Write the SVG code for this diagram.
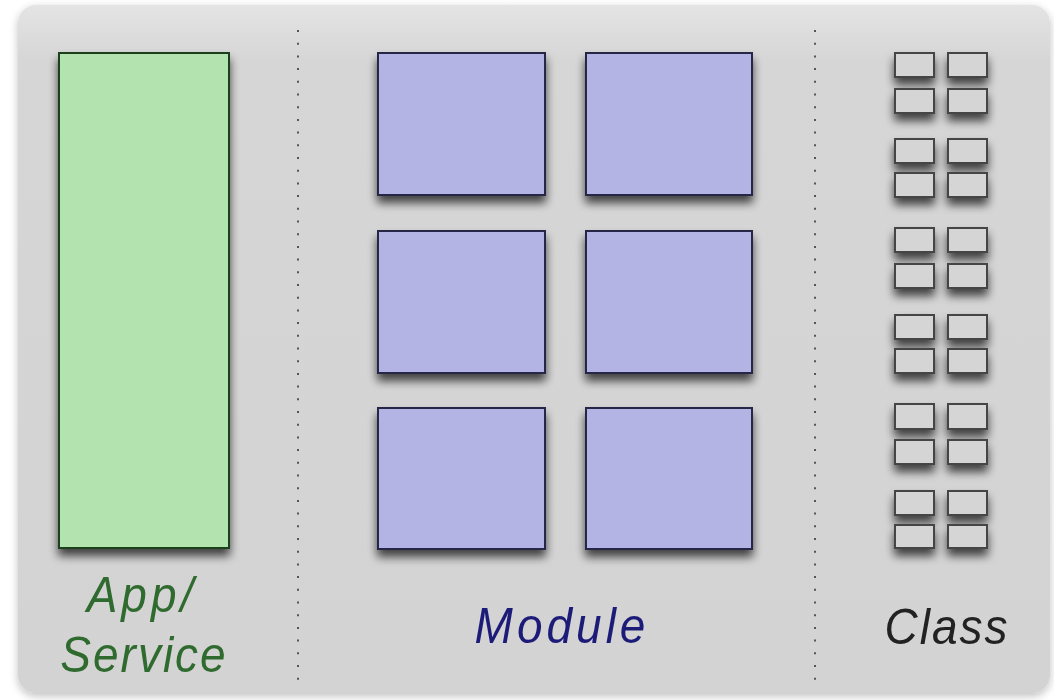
<svg xmlns="http://www.w3.org/2000/svg" width="1054" height="700" viewBox="0 0 1054 700">
  <defs>
    <linearGradient id="panelFill" x1="0" y1="0" x2="0" y2="1">
      <stop offset="0" stop-color="#e4e4e4"/>
      <stop offset="0.08" stop-color="#d6d6d6"/>
      <stop offset="1" stop-color="#d3d3d3"/>
    </linearGradient>
    <filter id="panelShadow" x="-5%" y="-5%" width="110%" height="110%">
      <feGaussianBlur in="SourceAlpha" stdDeviation="4"/>
      <feOffset dx="0" dy="3" result="b"/>
      <feComponentTransfer><feFuncA type="linear" slope="0.25"/></feComponentTransfer>
      <feMerge><feMergeNode/><feMergeNode in="SourceGraphic"/></feMerge>
    </filter>
    <filter id="boxShadow" x="-25%" y="-25%" width="150%" height="160%">
      <feGaussianBlur in="SourceAlpha" stdDeviation="5"/>
      <feOffset dx="0" dy="7" result="b"/>
      <feComponentTransfer><feFuncA type="linear" slope="0.7"/></feComponentTransfer>
      <feMerge><feMergeNode/><feMergeNode in="SourceGraphic"/></feMerge>
    </filter>
  </defs>
  <style>
    .app { fill: #b3e4b0; stroke: #1f3f1f; stroke-width: 2; }
    .mod { fill: #b4b4e4; stroke: #25254a; stroke-width: 2; }
    .cls { fill: #d5d5d5; stroke: #444444; stroke-width: 2; }
    .sep { stroke: #555555; stroke-width: 2; stroke-dasharray: 2 10.7; fill: none; }
    .label { font-family: "Liberation Sans", Arial, sans-serif; font-style: italic; font-size: 46px; text-anchor: middle; }
  </style>

  <rect width="1054" height="700" fill="#ffffff"/>

  <!-- background panel -->
  <rect x="18" y="5" width="1032" height="688" rx="18" ry="18" fill="url(#panelFill)" filter="url(#panelShadow)"/>

  <!-- column separators -->
  <g id="separators">
    <line class="sep" x1="298" y1="30" x2="298" y2="690"/>
    <line class="sep" x1="815" y1="30" x2="815" y2="690"/>
  </g>

  <!-- application / service column -->
  <g id="app-service">
    <rect class="app" x="59" y="53" width="170" height="495" filter="url(#boxShadow)"/>
    <text class="label" fill="#2f6a2f" letter-spacing="4" transform="translate(142 612) scale(1 1.1)">App/</text>
    <text class="label" fill="#2f6a2f" letter-spacing="2" transform="translate(144 672) scale(1 1.1)">Service</text>
  </g>

  <!-- module column -->
  <g id="modules">
    <rect class="mod" x="378" y="53" width="167" height="142" filter="url(#boxShadow)"/>
    <rect class="mod" x="586" y="53" width="166" height="142" filter="url(#boxShadow)"/>
    <rect class="mod" x="378" y="231" width="167" height="142" filter="url(#boxShadow)"/>
    <rect class="mod" x="586" y="231" width="166" height="142" filter="url(#boxShadow)"/>
    <rect class="mod" x="378" y="408" width="167" height="141" filter="url(#boxShadow)"/>
    <rect class="mod" x="586" y="408" width="166" height="141" filter="url(#boxShadow)"/>
    <text class="label" fill="#1c1c78" letter-spacing="4" transform="translate(562 643) scale(1 1.1)">Module</text>
  </g>

  <!-- class column -->
  <g id="classes">
    <g id="class-set-1" filter="url(#boxShadow)">
      <rect class="cls" x="895" y="53" width="39" height="24"/>
      <rect class="cls" x="948" y="53" width="39" height="24"/>
      <rect class="cls" x="895" y="89" width="39" height="24"/>
      <rect class="cls" x="948" y="89" width="39" height="24"/>
    </g>
    <g id="class-set-2" filter="url(#boxShadow)">
      <rect class="cls" x="895" y="139" width="39" height="24"/>
      <rect class="cls" x="948" y="139" width="39" height="24"/>
      <rect class="cls" x="895" y="173" width="39" height="24"/>
      <rect class="cls" x="948" y="173" width="39" height="24"/>
    </g>
    <g id="class-set-3" filter="url(#boxShadow)">
      <rect class="cls" x="895" y="228" width="39" height="24"/>
      <rect class="cls" x="948" y="228" width="39" height="24"/>
      <rect class="cls" x="895" y="264" width="39" height="24"/>
      <rect class="cls" x="948" y="264" width="39" height="24"/>
    </g>
    <g id="class-set-4" filter="url(#boxShadow)">
      <rect class="cls" x="895" y="315" width="39" height="24"/>
      <rect class="cls" x="948" y="315" width="39" height="24"/>
      <rect class="cls" x="895" y="349" width="39" height="24"/>
      <rect class="cls" x="948" y="349" width="39" height="24"/>
    </g>
    <g id="class-set-5" filter="url(#boxShadow)">
      <rect class="cls" x="895" y="404" width="39" height="25"/>
      <rect class="cls" x="948" y="404" width="39" height="25"/>
      <rect class="cls" x="895" y="440" width="39" height="24"/>
      <rect class="cls" x="948" y="440" width="39" height="24"/>
    </g>
    <g id="class-set-6" filter="url(#boxShadow)">
      <rect class="cls" x="895" y="491" width="39" height="24"/>
      <rect class="cls" x="948" y="491" width="39" height="24"/>
      <rect class="cls" x="895" y="525" width="39" height="23"/>
      <rect class="cls" x="948" y="525" width="39" height="23"/>
    </g>
    <text class="label" fill="#222222" letter-spacing="2" transform="translate(947 644) scale(1 1.1)">Class</text>
  </g>
</svg>
